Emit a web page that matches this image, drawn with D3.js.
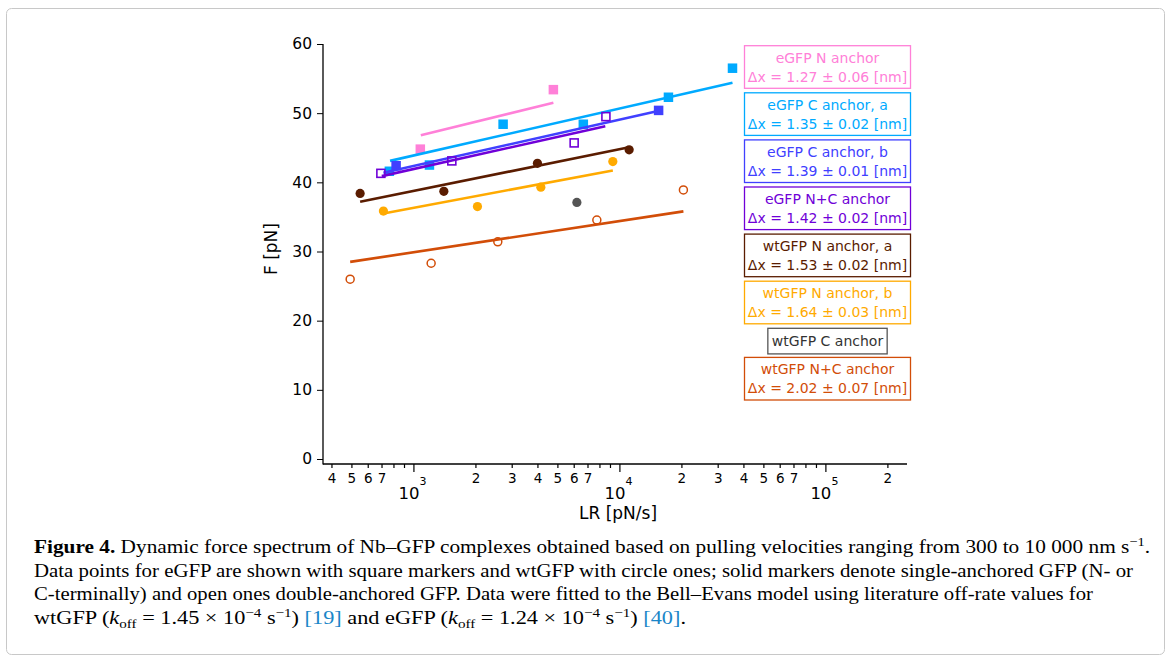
<!DOCTYPE html>
<html>
<head>
<meta charset="utf-8">
<script src="https://cdn.jsdelivr.net/npm/d3@7"></script>
<style>
  body { margin: 0; background: #fff; }
  svg text { font-family: "DejaVu Sans", Verdana, sans-serif; }
  svg text.cap { font-family: "Liberation Serif", "Times New Roman", serif; }
</style>
</head>
<body>
<div id="chart"></div>
<script>
/*
*    Dynamic force spectrum (Figure 4)
*/

// series (legend order)
const seriesNames = ["eGFP N anchor", "eGFP C anchor, a", "eGFP C anchor, b", "eGFP N+C anchor",
    "wtGFP N anchor, a", "wtGFP N anchor, b", "wtGFP C anchor", "wtGFP N+C anchor"];
const dxLabels = ["Δx = 1.27 ± 0.06 [nm]", "Δx = 1.35 ± 0.02 [nm]", "Δx = 1.39 ± 0.01 [nm]",
    "Δx = 1.42 ± 0.02 [nm]", "Δx = 1.53 ± 0.02 [nm]", "Δx = 1.64 ± 0.03 [nm]", "",
    "Δx = 2.02 ± 0.07 [nm]"];

// data points [LR (pN/s), F (pN)]
const eGFP_N   = [[1080, 44.8], [4780, 53.4]];
const eGFP_Ca  = [[764, 41.6], [1196, 42.5], [2725, 48.4], [6680, 48.4], [17300, 52.3], [35400, 56.5]];
const eGFP_Cb  = [[824, 42.4], [15500, 50.4]];
const eGFP_NC  = [[695, 41.3], [1536, 43.1], [6030, 45.7], [8600, 49.5]];
const wtGFP_Na = [[551, 38.4], [1405, 38.7], [4000, 42.75], [11150, 44.7]];
const wtGFP_Nb = [[715, 35.85], [2046, 36.5], [4155, 39.3], [9290, 43.0]];
const wtGFP_C  = [[6215, 37.1]];
const wtGFP_NC = [[493, 26.0], [1219, 28.3], [2568, 31.4], [7770, 34.55], [20450, 38.9]];

// Bell-Evans fits (end points)
const fit_eGFP_N   = [[1086, 46.8], [4780, 51.5]];
const fit_eGFP_Ca  = [[770, 43.1], [35400, 54.4]];
const fit_eGFP_Cb  = [[715, 41.4], [15400, 50.3]];
const fit_eGFP_NC  = [[702, 40.9], [8540, 48.1]];
const fit_wtGFP_Na = [[551, 37.2], [11150, 45.06]];
const fit_wtGFP_Nb = [[715, 35.5], [9290, 41.7]];
const fit_wtGFP_NC = [[493, 28.5], [20450, 35.8]];

const yTicks = [0, 10, 20, 30, 40, 50, 60];

const points = [eGFP_N, eGFP_Ca, eGFP_Cb, eGFP_NC, wtGFP_Na, wtGFP_Nb, wtGFP_C, wtGFP_NC];
const fits = [fit_eGFP_N, fit_eGFP_Ca, fit_eGFP_Cb, fit_eGFP_NC, fit_wtGFP_Na, fit_wtGFP_Nb, null, fit_wtGFP_NC];
const shapes = ["square", "square", "square", "openSquare", "circle", "circle", "circle", "openCircle"];
const colors = ["#ff80d8", "#00aaff", "#4040ff", "#7000d8", "#5a1c00", "#ffaa00", "#555555", "#d24d08"];

const width = 1171;
const height = 662;

const svg = d3.select("#chart")
    .append("svg")
    .attr("width", width)
    .attr("height", height);

// outer frame
svg.append("rect")
    .attr("x", 6.5).attr("y", 8.5)
    .attr("width", 1158).attr("height", 646)
    .attr("rx", 5)
    .attr("fill", "none")
    .attr("stroke", "#c8c8c8");

// scales
const x = d3.scaleLog()
    .domain([368, 249000])
    .range([324, 907]);

const y = d3.scaleLinear()
    .domain([0, 60])
    .range([459, 44]);

const axisY = 464;

// Axis Y
const gy = svg.append("g")
    .attr("transform", "translate(323,0)")
    .call(d3.axisLeft(y).tickValues(yTicks).tickSize(6).tickPadding(5));
gy.select(".domain").remove();
gy.selectAll("text").style("font-size", "15.5px").attr("fill", "#000");
gy.append("line")
    .attr("y1", y(60)).attr("y2", axisY + 0.5)
    .attr("stroke", "#000").attr("stroke-width", 1.3);

// Axis X (log, with minor ticks)
const xTicks = [];
for (let e = 2; e <= 5; e++) {
    for (let k = 1; k <= 9; k++) {
        const v = k * Math.pow(10, e);
        if (v >= x.domain()[0] && v <= x.domain()[1]) xTicks.push(v);
    }
}
const mant = v => Math.round(v / Math.pow(10, Math.floor(Math.log10(v) + 1e-9)));

const gx = svg.append("g")
    .attr("transform", `translate(0, ${axisY})`)
    .call(d3.axisBottom(x).tickValues(xTicks).tickSize(4)
        .tickFormat(v => { const m = mant(v); return (m >= 2 && m <= 7) ? m : ""; }));
gx.select(".domain").remove();
gx.selectAll(".tick line")
    .attr("y2", v => mant(v) === 1 ? 8 : 4)
    .attr("stroke-width", 1.2);
gx.selectAll(".tick text")
    .attr("y", 9)
    .style("font-size", "13.5px")
    .attr("fill", "#000");
gx.append("line")
    .attr("x1", 323).attr("x2", x.range()[1])
    .attr("stroke", "#000").attr("stroke-width", 1.3);

// decade labels 10^n
const decades = xTicks.filter(v => mant(v) === 1);
const dec = svg.append("g").selectAll("text")
    .data(decades)
    .enter()
    .append("text")
    .attr("x", d => x(d) - 1)
    .attr("y", 499)
    .attr("text-anchor", "middle")
    .style("font-size", "16.5px");
dec.append("tspan").text("10");
dec.append("tspan")
    .attr("dy", -14)
    .style("font-size", "11px")
    .text(d => Math.round(Math.log10(d)));

// axis titles
svg.append("text")
    .attr("x", 618)
    .attr("y", 519)
    .attr("text-anchor", "middle")
    .style("font-size", "17px")
    .text("LR [pN/s]");

svg.append("text")
    .attr("transform", "rotate(-90)")
    .attr("x", -249)
    .attr("y", 277)
    .attr("text-anchor", "middle")
    .style("font-size", "17px")
    .text("F [pN]");

// series: markers then fit line
const line = d3.line().x(d => x(d[0])).y(d => y(d[1]));
const plot = svg.append("g");

points.forEach((pts, i) => {
    const g = plot.append("g");
    const c = colors[i];
    const s = shapes[i];
    if (s === "square" || s === "openSquare") {
        const sz = s === "square" ? 9.5 : 8;
        g.selectAll("rect")
            .data(pts)
            .enter()
            .append("rect")
            .attr("x", d => x(d[0]) - sz / 2)
            .attr("y", d => y(d[1]) - sz / 2)
            .attr("width", sz)
            .attr("height", sz)
            .attr("fill", s === "square" ? c : "none")
            .attr("stroke", s === "square" ? "none" : c)
            .attr("stroke-width", 1.6);
    } else {
        g.selectAll("circle")
            .data(pts)
            .enter()
            .append("circle")
            .attr("cx", d => x(d[0]))
            .attr("cy", d => y(d[1]))
            .attr("r", s === "circle" ? 4.6 : 4)
            .attr("fill", s === "circle" ? c : "none")
            .attr("stroke", s === "circle" ? "none" : c)
            .attr("stroke-width", 1.5);
    }
    if (fits[i]) {
        g.append("path")
            .datum(fits[i])
            .attr("d", line)
            .attr("fill", "none")
            .attr("stroke", c)
            .attr("stroke-width", 2.6);
    }
});

// legend boxes
const legend = svg.append("g");
let boxTop = 45.7;
seriesNames.forEach((name, i) => {
    const c = colors[i];
    const twoLines = dxLabels[i] !== "";
    const h = twoLines ? 42.6 : 25.6;
    const g = legend.append("g");
    const t1 = g.append("text")
        .attr("x", 827.5)
        .attr("y", boxTop + (twoLines ? 17 : 18))
        .attr("text-anchor", "middle")
        .style("font-size", "14px")
        .attr("fill", i === 6 ? "#333" : c)
        .text(name);
    if (twoLines) {
        g.append("text")
            .attr("x", 827.5)
            .attr("y", boxTop + 36)
            .attr("text-anchor", "middle")
            .style("font-size", "14px")
            .attr("fill", c)
            .text(dxLabels[i]);
        g.insert("rect", "text")
            .attr("x", 744.5).attr("y", boxTop)
            .attr("width", 166).attr("height", h)
            .attr("fill", "#fff")
            .attr("stroke", c).attr("stroke-width", 1.3);
    } else {
        const w = t1.node().getComputedTextLength() + 8;
        g.insert("rect", "text")
            .attr("x", 827.5 - w / 2).attr("y", boxTop)
            .attr("width", w).attr("height", h)
            .attr("fill", "#fff")
            .attr("stroke", c).attr("stroke-width", 1.3);
    }
    boxTop += h + (i === 6 ? 3.5 : 4.5);
});

// caption
const cap = svg.append("g").style("font-size", "18.5px");
const capLines = [
    { y: 553, len: 1116 },
    { y: 577, len: 1099 },
    { y: 600, len: 1059 },
    { y: 624, len: 652 }
];

const l1 = cap.append("text").attr("class", "cap").attr("x", 34).attr("y", capLines[0].y);
l1.append("tspan").attr("font-weight", "bold").text("Figure 4. ");
l1.append("tspan").text("Dynamic force spectrum of Nb–GFP complexes obtained based on pulling velocities ranging from 300 to 10 000 nm s");
l1.append("tspan").attr("dy", -7).style("font-size", "12.5px").text("−1");
l1.append("tspan").attr("dy", 7).text(".");

cap.append("text").attr("class", "cap").attr("x", 34).attr("y", capLines[1].y)
    .text("Data points for eGFP are shown with square markers and wtGFP with circle ones; solid markers denote single-anchored GFP (N- or");
cap.append("text").attr("class", "cap").attr("x", 34).attr("y", capLines[2].y)
    .text("C-terminally) and open ones double-anchored GFP. Data were fitted to the Bell–Evans model using literature off-rate values for");

const l4 = cap.append("text").attr("class", "cap").attr("x", 34).attr("y", capLines[3].y);
function koff(t, val) {
    t.append("tspan").text("(");
    t.append("tspan").attr("font-style", "italic").text("k");
    t.append("tspan").attr("dy", 4).style("font-size", "12.5px").text("off");
    t.append("tspan").attr("dy", -4).text(" = " + val + " × 10");
    t.append("tspan").attr("dy", -7).style("font-size", "12.5px").text("−4");
    t.append("tspan").attr("dy", 7).text(" s");
    t.append("tspan").attr("dy", -7).style("font-size", "12.5px").text("−1");
    t.append("tspan").attr("dy", 7).text(") ");
}
l4.append("tspan").text("wtGFP ");
koff(l4, "1.45");
l4.append("tspan").attr("fill", "#1a86c8").text("[19]");
l4.append("tspan").text(" and eGFP ");
koff(l4, "1.24");
l4.append("tspan").attr("fill", "#1a86c8").text("[40]");
l4.append("tspan").text(".");

cap.selectAll("text").each(function(d, i) {
    d3.select(this).attr("textLength", capLines[i].len).attr("lengthAdjust", "spacingAndGlyphs");
});
</script>
</body>
</html>
